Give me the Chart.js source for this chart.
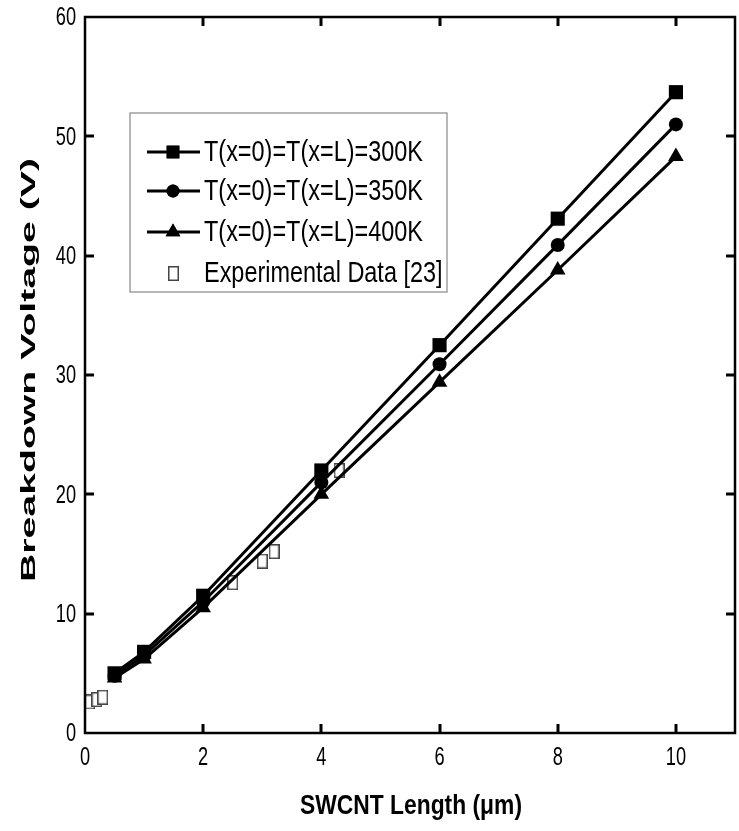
<!DOCTYPE html>
<html>
<head>
<meta charset="utf-8">
<script src="https://cdn.jsdelivr.net/npm/chart.js@4.4.1/dist/chart.umd.min.js"></script>
<style>
  html, body { margin: 0; padding: 0; background: #fff; }
  #wrap { width: 739px; height: 831px; position: relative; }
</style>
</head>
<body>
<div id="wrap"><canvas id="c" width="739" height="831"></canvas></div>
<script>
// SWCNT length (um) at which the model was evaluated
const lengths = [0.5, 1, 2, 4, 6, 8, 10];
// Breakdown voltage (V) for each contact temperature
const v300 = [5.0, 6.8, 11.5, 22.0, 32.5, 43.1, 53.7];
const v350 = [4.8, 6.5, 11.0, 21.0, 30.9, 40.9, 51.0];
const v400 = [4.6, 6.2, 10.5, 20.0, 29.4, 38.8, 48.3];
// Measured points
const expLength = [0.08, 0.2, 0.3, 2.5, 3.0, 3.2, 4.3];
const expVoltage = [2.6, 2.8, 3.0, 12.6, 14.4, 15.2, 22.0];
// Tick values
const xTicks = [0, 2, 4, 6, 8, 10];
const yTicks = [0, 10, 20, 30, 40, 50, 60];
// Legend text
const seriesNames = ['T(x=0)=T(x=L)=300K', 'T(x=0)=T(x=L)=350K', 'T(x=0)=T(x=L)=400K', 'Experimental Data [23]'];

const SANS = "'Liberation Sans', Arial, sans-serif";
const NARROW_X = 0.7; // horizontal squeeze for the condensed lettering

// hollow open-square marker for the measured points
function hollowBox(w, h) {
  const cv = document.createElement('canvas');
  cv.width = w; cv.height = h;
  const g = cv.getContext('2d');
  g.fillStyle = '#fff';
  g.fillRect(0, 0, w, h);
  g.strokeStyle = '#444';
  g.lineWidth = 1.5;
  g.strokeRect(0.75, 0.75, w - 1.5, h - 1.5);
  return cv;
}
const boxMarker = hollowBox(11, 15);

// condensed text: normal glyphs squeezed horizontally
function narrowText(ctx, text, x, y, align, sx) {
  ctx.save();
  ctx.translate(x, y);
  ctx.scale(sx, 1);
  ctx.textAlign = align;
  ctx.fillText(text, 0, 0);
  ctx.restore();
}

const pairs = (xs, ys) => xs.map((x, i) => ({ x: x, y: ys[i] }));

const frame = {
  id: 'frame',
  afterDatasetsDraw(chart) {
    const { ctx, chartArea: a, scales: { x, y } } = chart;
    ctx.save();
    ctx.strokeStyle = '#000';
    ctx.lineWidth = 3;
    ctx.lineCap = 'butt';
    // inward ticks on all four sides
    const tl = 9;
    xTicks.forEach(v => {
      if (v === 0) return;
      const px = Math.round(x.getPixelForValue(v));
      ctx.beginPath();
      ctx.moveTo(px, a.bottom); ctx.lineTo(px, a.bottom - tl);
      ctx.moveTo(px, a.top); ctx.lineTo(px, a.top + tl);
      ctx.stroke();
    });
    yTicks.forEach(v => {
      if (v === 0 || v === 60) return;
      const py = Math.round(y.getPixelForValue(v));
      ctx.beginPath();
      ctx.moveTo(a.left, py); ctx.lineTo(a.left + tl, py);
      ctx.moveTo(a.right, py); ctx.lineTo(a.right - tl, py);
      ctx.stroke();
    });
    // box
    ctx.lineWidth = 2.5;
    ctx.strokeRect(a.left, a.top, a.right - a.left, a.bottom - a.top);
    ctx.restore();
  },
  afterDraw(chart) {
    const { ctx, chartArea: a, scales: { x, y } } = chart;
    ctx.save();
    ctx.fillStyle = '#000';
    ctx.textBaseline = 'middle';

    // tick labels
    ctx.font = "26px " + SANS;
    yTicks.forEach(v => narrowText(ctx, String(v), a.left - 9, y.getPixelForValue(v) + 1, 'right', NARROW_X));
    xTicks.forEach(v => narrowText(ctx, String(v), x.getPixelForValue(v), 758, 'center', NARROW_X));

    // y axis title, stretched along its length
    ctx.font = "bold 20px " + SANS;
    const yt = 'Breakdown Voltage (V)';
    const ys = 424 / ctx.measureText(yt).width;
    ctx.save();
    ctx.translate(29, 370);
    ctx.rotate(-Math.PI / 2);
    ctx.scale(ys, 1);
    ctx.textAlign = 'center';
    ctx.fillText(yt, 0, 0);
    ctx.restore();

    // x axis title
    ctx.font = "bold 28px " + SANS;
    const xt = 'SWCNT Length (\u03BCm)';
    narrowText(ctx, xt, 411, 806, 'center', 222 / ctx.measureText(xt).width);

    // legend
    const lx = 130, ly = 113, lw = 317, lh = 179;
    ctx.fillStyle = '#fff';
    ctx.fillRect(lx, ly, lw, lh);
    ctx.strokeStyle = '#888';
    ctx.lineWidth = 1.2;
    ctx.strokeRect(lx, ly, lw, lh);
    const rows = [152, 191, 232, 273];
    const styles = ['rect', 'circle', 'triangle'];
    const radii = [9, 6.5, 8.5];
    for (let i = 0; i < 3; i++) {
      ctx.strokeStyle = '#000';
      ctx.lineWidth = 3;
      ctx.beginPath();
      ctx.moveTo(147, rows[i]); ctx.lineTo(200, rows[i]);
      ctx.stroke();
      ctx.fillStyle = '#000';
      Chart.helpers.drawPoint(ctx, { pointStyle: styles[i], radius: radii[i], borderWidth: 0 }, 173, rows[i]);
      ctx.fill();
    }
    ctx.drawImage(boxMarker, 168, rows[3] - 7);

    ctx.fillStyle = '#000';
    ctx.font = "29px " + SANS;
    const ls = 219 / ctx.measureText(seriesNames[0]).width;
    seriesNames.forEach((s, i) => narrowText(ctx, s, 204, rows[i] + 1, 'left', ls));
    ctx.restore();
  }
};

const lineSet = (label, data, style, r) => ({
  label: label,
  data: pairs(lengths, data),
  borderColor: '#000',
  backgroundColor: '#000',
  borderWidth: 3,
  pointStyle: style,
  pointRadius: r,
  pointBorderWidth: 0,
  showLine: true,
  tension: 0
});

new Chart(document.getElementById('c'), {
  type: 'scatter',
  data: {
    datasets: [
      lineSet(seriesNames[0], v300, 'rect', 10),
      lineSet(seriesNames[1], v350, 'circle', 7),
      lineSet(seriesNames[2], v400, 'triangle', 9),
      {
        label: seriesNames[3],
        data: pairs(expLength, expVoltage),
        showLine: false,
        pointStyle: boxMarker,
        pointRadius: 7
      }
    ]
  },
  options: {
    responsive: false,
    animation: false,
    layout: { autoPadding: false, padding: { top: 17, right: 4, left: 0, bottom: 0 } },
    plugins: { legend: { display: false }, tooltip: { enabled: false } },
    scales: {
      x: {
        type: 'linear', min: 0, max: 11,
        afterBuildTicks: s => { s.ticks = xTicks.map(v => ({ value: v })); },
        afterFit: s => { s.height = 98; },
        grid: { display: false, drawTicks: false },
        border: { display: false },
        ticks: { display: false }
      },
      y: {
        type: 'linear', min: 0, max: 60,
        afterBuildTicks: s => { s.ticks = yTicks.map(v => ({ value: v })); },
        afterFit: s => { s.width = 85; },
        grid: { display: false, drawTicks: false },
        border: { display: false },
        ticks: { display: false }
      }
    }
  },
  plugins: [frame]
});
</script>
</body>
</html>
